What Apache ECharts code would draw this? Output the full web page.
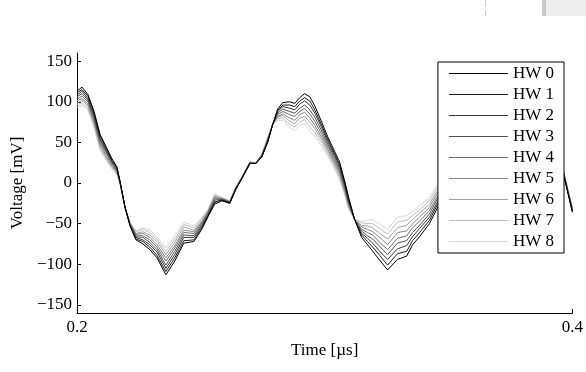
<!DOCTYPE html>
<html>
<head>
<meta charset="utf-8">
<script src="https://cdn.jsdelivr.net/npm/echarts@6/dist/echarts.min.js"></script>
<style>html,body{margin:0;padding:0;background:#fff;}#c{width:586px;height:372px;}</style>
</head>
<body>
<div id="c"></div>
<script>
var times = [0.2000,0.2020,0.2044,0.2069,0.2093,0.2117,0.2141,0.2161,0.2173,0.2194,
0.2214,0.2238,0.2266,0.2294,0.2323,0.2359,0.2395,0.2431,0.2472,0.2504,
0.2528,0.2556,0.2585,0.2617,0.2641,0.2661,0.2698,0.2722,0.2746,0.2770,
0.2790,0.2810,0.2831,0.2859,0.2879,0.2899,0.2919,0.2940,0.2960,0.2988,
0.3012,0.3040,0.3060,0.3081,0.3097,0.3121,0.3149,0.3173,0.3194,0.3222,
0.3254,0.3294,0.3331,0.3355,0.3383,0.3423,0.3456,0.3524,0.3605,0.3685,
0.3766,0.3847,0.3915,0.3960,0.4000];

var hw0 = [113,118,109,88,60,45,30,20,3,-30,-53,-70,-75,-82,-92,-113,-96,-74,-72,-57,-42,-26,-22,-25,-8,3,24,24,32,50,72,91,99,100,98,105,110,106,95,75,57,39,26,2,-18,-45,-67,-76,-84,-95,-107,-94,-90,-76,-66,-50,-30,5,40,70,85,75,48,16,-36];
var hw1 = [111,115,107,86,58,43,28,19,3,-30,-52,-69,-72,-79,-89,-109,-92,-71,-70,-55,-41,-24,-21,-25,-8,3,24,24,32,51,72,89,96,96,94,101,105,101,90,71,54,36,23,0,-20,-45,-64,-72,-79,-89,-101,-87,-84,-71,-61,-46,-26,6,40,69,83,73,47,17,-35];
var hw2 = [108,113,104,83,55,41,27,18,2,-30,-52,-67,-70,-76,-85,-105,-88,-67,-67,-53,-40,-23,-21,-24,-7,3,24,24,33,52,72,88,94,92,90,97,101,96,86,68,51,34,21,-2,-22,-45,-62,-68,-74,-84,-94,-81,-77,-66,-56,-42,-23,8,40,68,81,72,47,17,-34];
var hw3 = [106,110,102,81,53,39,25,16,2,-30,-51,-66,-67,-73,-82,-101,-84,-64,-65,-51,-39,-21,-20,-24,-7,4,25,24,33,52,72,86,91,88,86,92,96,90,81,64,48,31,18,-4,-24,-45,-59,-65,-69,-78,-88,-74,-71,-61,-52,-38,-19,9,40,66,79,70,46,18,-34];
var hw4 = [103,107,100,78,50,37,24,15,2,-30,-50,-64,-65,-70,-79,-96,-80,-61,-62,-49,-37,-19,-20,-23,-6,4,25,24,34,53,72,84,88,84,82,88,92,85,76,60,45,28,15,-6,-25,-45,-57,-61,-64,-73,-82,-68,-65,-55,-47,-34,-16,10,40,65,78,69,45,18,-33];
var hw5 = [101,104,97,76,48,34,22,14,1,-30,-50,-63,-62,-67,-76,-92,-77,-58,-60,-48,-36,-18,-19,-23,-6,4,25,25,34,54,72,82,85,80,77,84,87,80,71,56,42,25,12,-9,-27,-45,-54,-57,-60,-67,-76,-61,-59,-50,-42,-30,-12,11,40,64,76,67,44,19,-32];
var hw6 = [98,102,95,73,45,32,20,13,1,-30,-49,-62,-60,-64,-72,-88,-73,-54,-58,-46,-35,-16,-19,-23,-6,4,25,25,35,55,72,81,83,76,73,80,82,75,67,53,39,23,10,-11,-29,-45,-52,-53,-55,-62,-69,-55,-52,-45,-37,-26,-9,13,40,63,74,65,44,19,-32];
var hw7 = [96,99,92,71,43,30,19,11,0,-30,-49,-60,-57,-61,-69,-84,-69,-51,-55,-44,-34,-15,-18,-22,-5,5,26,25,35,55,72,79,80,72,69,75,78,69,62,49,36,20,7,-13,-31,-45,-49,-50,-50,-56,-63,-48,-46,-40,-33,-22,-5,14,40,61,72,64,43,20,-31];
var hw8 = [93,96,90,68,40,28,17,10,0,-30,-48,-59,-55,-58,-66,-80,-65,-48,-53,-42,-33,-13,-18,-22,-5,5,26,25,36,56,72,77,77,68,65,71,73,64,57,45,33,17,4,-15,-33,-45,-47,-46,-45,-51,-57,-42,-40,-35,-28,-18,-2,15,40,60,70,62,42,20,-30];

var seriesNames = ['HW 0','HW 1','HW 2','HW 3','HW 4','HW 5','HW 6','HW 7','HW 8'];
var seriesValues = [hw0,hw1,hw2,hw3,hw4,hw5,hw6,hw7,hw8];
var seriesColors = ['#000000','#1b1b1b','#363636','#515151','#6c6c6c','#878787','#a2a2a2','#bdbdbd','#d8d8d8'];
var yTicks = [-150,-100,-50,0,50,100,150];
var xTicks = [0.2,0.4];

var FONT = '"Liberation Serif", "DejaVu Serif", serif';
var FS = 17;

var series = [];
for (var i = seriesNames.length - 1; i >= 0; i--) {
  var pts = [];
  for (var j = 0; j < times.length; j++) pts.push([times[j], seriesValues[i][j]]);
  series.push({
    name: seriesNames[i],
    type: 'line',
    data: pts,
    symbol: 'none',
    showSymbol: false,
    lineStyle: {width: 1, color: seriesColors[i]},
    itemStyle: {color: seriesColors[i]},
    emphasis: {disabled: true},
    silent: true
  });
}

var chart = echarts.init(document.getElementById('c'), null, {renderer: 'canvas'});
chart.setOption({
  animation: false,
  backgroundColor: '#ffffff',
  grid: {left: 77, right: 13, top: 53, bottom: 59, containLabel: false},
  xAxis: {
    type: 'value',
    min: 0.2, max: 0.4,
    name: 'Time [µs]',
    nameLocation: 'middle',
    nameGap: 29,
    nameTextStyle: {fontFamily: FONT, fontSize: FS, color: '#000'},
    axisLine: {show: true, onZero: false, lineStyle: {color: '#000', width: 1}},
    axisTick: {show: true, inside: true, length: 4, customValues: xTicks, lineStyle: {color: '#000'}},
    axisLabel: {customValues: xTicks, fontFamily: FONT, fontSize: FS, color: '#000', margin: 6,
      formatter: function(v){ return v.toFixed(1); }},
    splitLine: {show: false}
  },
  yAxis: {
    type: 'value',
    min: -160, max: 160,
    name: 'Voltage [mV]',
    nameLocation: 'middle',
    nameGap: 50,
    nameTextStyle: {fontFamily: FONT, fontSize: FS, color: '#000'},
    axisLine: {show: true, onZero: false, lineStyle: {color: '#000', width: 1}},
    axisTick: {show: true, inside: true, length: 4, customValues: yTicks, lineStyle: {color: '#000'}},
    axisLabel: {customValues: yTicks, fontFamily: FONT, fontSize: FS, color: '#000', margin: 5,
      formatter: function(v){ return String(v).replace('-', '\u2212'); }},
    splitLine: {show: false}
  },
  legend: {
    data: seriesNames,
    orient: 'vertical',
    right: 22,
    top: 62,
    icon: 'rect',
    itemWidth: 59,
    itemHeight: 1,
    itemGap: 4,
    padding: [3, 10, 3, 11],
    backgroundColor: '#ffffff',
    borderColor: '#000000',
    borderWidth: 1,
    borderRadius: 0,
    selectedMode: false,
    itemStyle: {borderWidth: 0},
    textStyle: {fontFamily: FONT, fontSize: FS, color: '#000', lineHeight: 17},
    z: 10
  },
  graphic: [
    {type: 'rect', shape: {x: 542, y: 0, width: 44, height: 16}, style: {fill: '#eeeeec'}, silent: true},
    {type: 'rect', shape: {x: 542, y: 0, width: 4, height: 16}, style: {fill: '#c9c9c7'}, silent: true},
    {type: 'line', shape: {x1: 485.5, y1: 0, x2: 485.5, y2: 16}, style: {stroke: '#cccccc', lineWidth: 1, lineDash: [7, 3]}, silent: true}
  ],
  series: series
});
</script>
</body>
</html>
